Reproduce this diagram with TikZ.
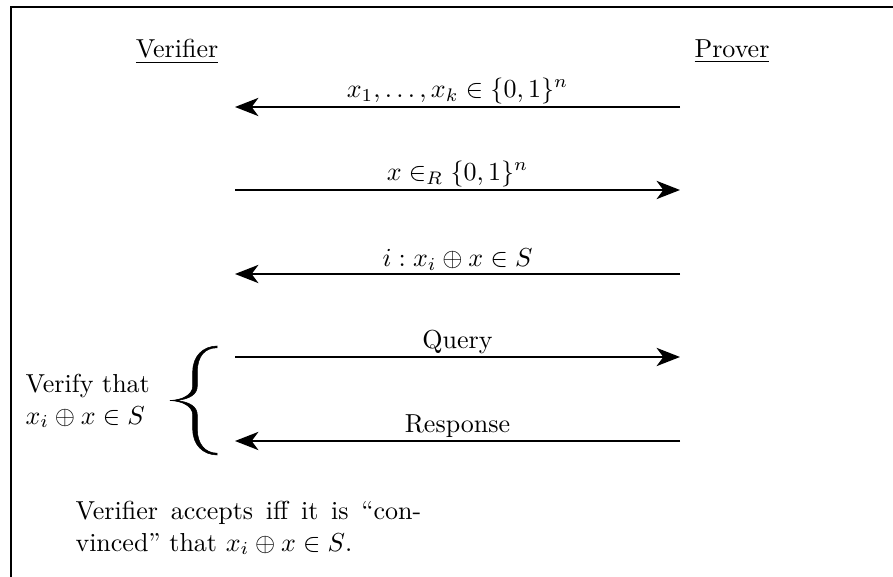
\documentclass[tikz,border=0pt]{standalone}
\usetikzlibrary{arrows.meta}
\begin{document}
\begin{tikzpicture}[x=0.3846pt,y=-0.3846pt,
  frame/.style={line width=0.8pt},
  msg/.style={line width=0.8pt,-{Stealth[length=9pt,width=7pt,inset=2.6pt]}},
  lbl/.style={above,inner sep=0.8pt},
  party/.style={anchor=base,inner sep=0pt},
  bracefill/.style={fill=black,draw=black,line width=0.2pt}]
\useasboundingbox (0,0) rectangle (893,577);
\coordinate (tl) at (11,7);
\coordinate (bl) at (11,577);
\coordinate (tr) at (893,7);
\draw[frame] (bl) -- (tl) -- (tr);
\node[party] (ver) at (177,58) {\underline{Verifier}};
\node[party] (pro) at (732,58) {\underline{Prover}};
\coordinate (v1) at (235,107); \coordinate (p1) at (680,107);
\coordinate (v2) at (235,190); \coordinate (p2) at (680,190);
\coordinate (v3) at (235,274); \coordinate (p3) at (680,274);
\coordinate (v4) at (235,357); \coordinate (p4) at (680,357);
\coordinate (v5) at (235,441); \coordinate (p5) at (680,441);
\draw[msg] (p1) -- node[lbl] {$x_1,\ldots,x_k\in\{0,1\}^n$} (v1);
\draw[msg] (v2) -- node[lbl] {$x\in_R\{0,1\}^n$} (p2);
\draw[msg] (p3) -- node[lbl] {$i:x_i\oplus x\in S$} (v3);
\draw[msg] (v4) -- node[lbl] {Query} (p4);
\draw[msg] (p5) -- node[lbl] {Response} (v5);
% curly brace
\path[bracefill] (217,346) .. controls (203,346.3) and (192.7,356) .. (192.7,372)
  -- (192.7,386) .. controls (192.7,395) and (182,400) .. (170,400.5)
  .. controls (182,401) and (192.7,406) .. (192.7,415)
  -- (192.7,429) .. controls (192.7,445) and (203,454.7) .. (217,455)
  -- (217,453.2) .. controls (205,453) and (197.3,444) .. (197.3,429)
  -- (197.3,415) .. controls (197.3,407) and (190,401.5) .. (175,400.5)
  .. controls (190,399.5) and (197.3,394) .. (197.3,386)
  -- (197.3,372) .. controls (197.3,356) and (205,347.8) .. (217,347.8) -- cycle;
\node[anchor=north west,align=left,inner sep=0pt] (verify) at (25,374) {Verify that\\ $x_i\oplus x\in S$};
\node[anchor=north west,text width=133pt,align=justify,inner sep=0pt] (accept) at (75,501)
  {\setlength{\baselineskip}{10.8pt}Verifier accepts iff it is “con-\linebreak vinced” that $x_i\oplus x\in S$.};
\end{tikzpicture}
\end{document}
